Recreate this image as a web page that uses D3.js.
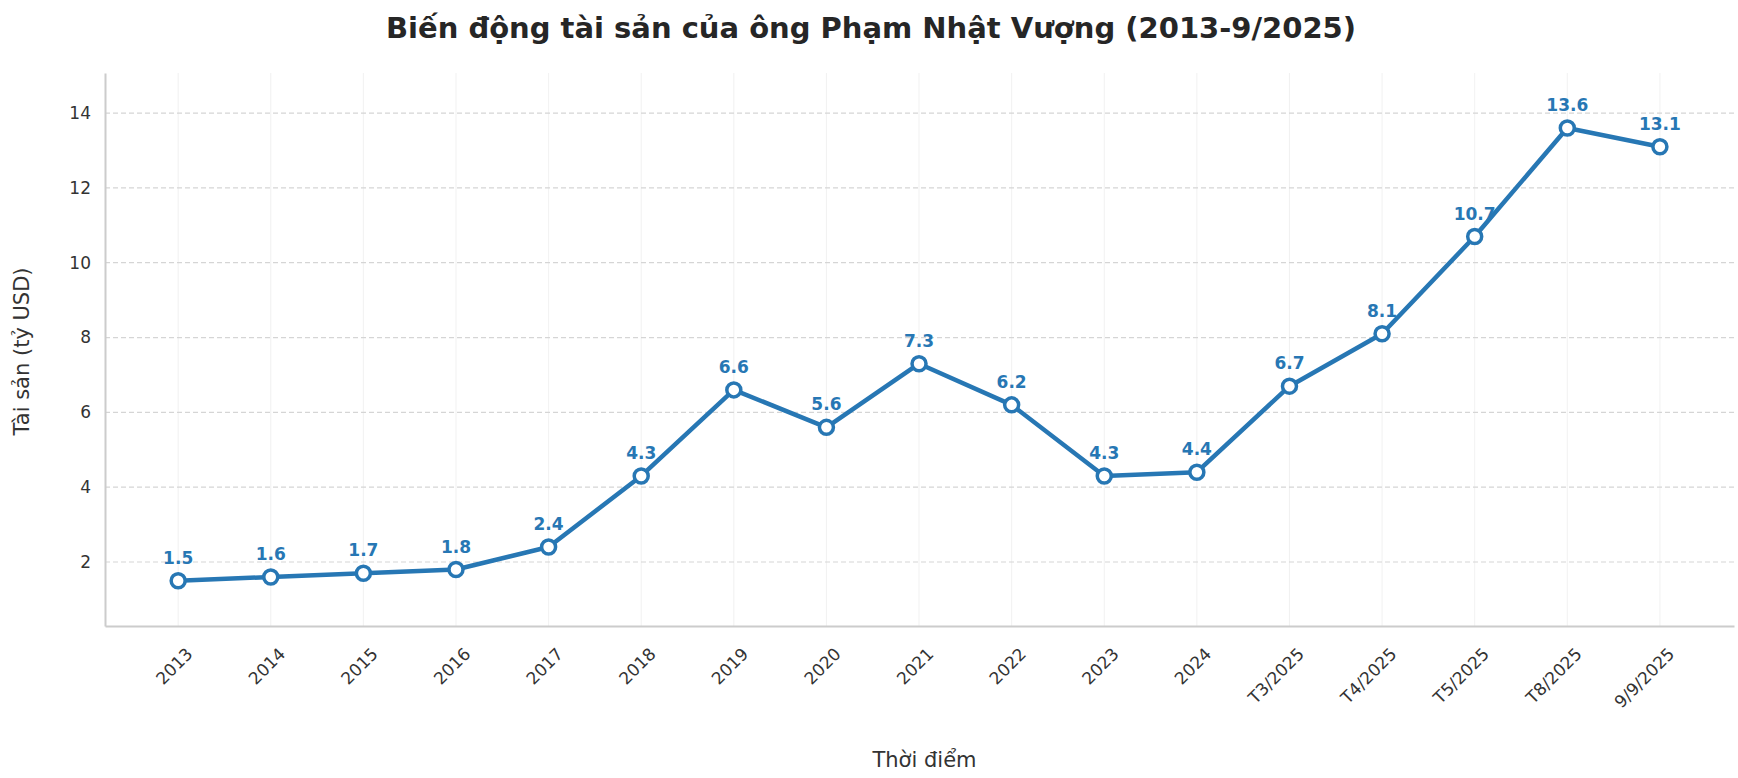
<!DOCTYPE html>
<html><head><meta charset="utf-8">
<script src="https://cdn.jsdelivr.net/npm/d3@7"></script>
<style>body{margin:0;background:#fff;font-family:"DejaVu Sans",sans-serif}</style>
</head><body><div id="chart"></div>
<script>
// Data
const labels = ["2013","2014","2015","2016","2017","2018","2019","2020","2021","2022","2023","2024","T3/2025","T4/2025","T5/2025","T8/2025","9/9/2025"];
const values = [1.5,1.6,1.7,1.8,2.4,4.3,6.6,5.6,7.3,6.2,4.3,4.4,6.7,8.1,10.7,13.6,13.1];
const yTicks = [2,4,6,8,10,12,14];

const W = 1738, H = 778, color = "#2777b4";
const m = {l:105, r:4, t:73, b:152};

const svg = d3.select("#chart").append("svg").attr("width", W).attr("height", H);

const x = d3.scaleLinear().domain([-0.79, 16.8]).range([m.l, W - m.r]);
const y = d3.scaleLinear().domain([0.29, 15.07]).range([H - m.b, m.t]);

// Grid
svg.append("g").selectAll("line").data(labels).enter().append("line")
  .attr("x1", (d, i) => x(i)).attr("x2", (d, i) => x(i)).attr("y1", m.t).attr("y2", H - m.b)
  .attr("stroke", "#eee").attr("stroke-width", 0.8);
svg.append("g").selectAll("line").data(yTicks).enter().append("line")
  .attr("x1", m.l).attr("x2", W - m.r).attr("y1", d => y(d)).attr("y2", d => y(d))
  .attr("stroke", "#d5d5d5").attr("stroke-width", 1.2).attr("stroke-dasharray", "5,3");

// Axes
const yAxis = svg.append("g").attr("transform", `translate(${m.l},0)`)
  .call(d3.axisLeft(y).tickValues(yTicks).tickSize(0).tickPadding(14));
const xAxis = svg.append("g").attr("transform", `translate(0,${H - m.b})`)
  .call(d3.axisBottom(x).tickValues(d3.range(labels.length)).tickFormat(i => labels[i]).tickSize(0).tickPadding(10));
[xAxis, yAxis].forEach(a => {
  a.select(".domain").attr("stroke", "#ccc").attr("stroke-width", 2);
  a.selectAll("text").attr("font-size", 17).attr("fill", "#333").attr("font-family", "DejaVu Sans");
});
xAxis.selectAll("text").attr("text-anchor", "end").attr("dy", 0)
  .attr("transform", "translate(8,22) rotate(-45)");

// Line and markers
svg.append("path").datum(values)
  .attr("d", d3.line().x((d, i) => x(i)).y(d => y(d)))
  .attr("fill", "none").attr("stroke", color).attr("stroke-width", 4.5).attr("stroke-linejoin", "round");
svg.append("g").selectAll("circle").data(values).enter().append("circle")
  .attr("cx", (d, i) => x(i)).attr("cy", d => y(d)).attr("r", 7)
  .attr("fill", "#fff").attr("stroke", color).attr("stroke-width", 3.5);
svg.append("g").selectAll("text").data(values).enter().append("text")
  .attr("x", (d, i) => x(i)).attr("y", d => y(d) - 17).attr("text-anchor", "middle")
  .attr("font-size", 17).attr("font-weight", "bold").attr("fill", color)
  .text(d => d.toFixed(1));

// Titles
svg.append("text").attr("x", W / 2 + 2).attr("y", 38).attr("text-anchor", "middle")
  .attr("font-size", 29).attr("font-weight", "bold").attr("fill", "#262626")
  .text("Biến động tài sản của ông Phạm Nhật Vượng (2013-9/2025)");
svg.append("text").attr("transform", `translate(29,${(m.t + H - m.b) / 2 + 2}) rotate(-90)`)
  .attr("text-anchor", "middle").attr("font-size", 21).attr("fill", "#333").text("Tài sản (tỷ USD)");
svg.append("text").attr("x", (m.l + W - m.r) / 2 + 5).attr("y", 767).attr("text-anchor", "middle")
  .attr("font-size", 21).attr("fill", "#333").text("Thời điểm");
</script></body></html>
